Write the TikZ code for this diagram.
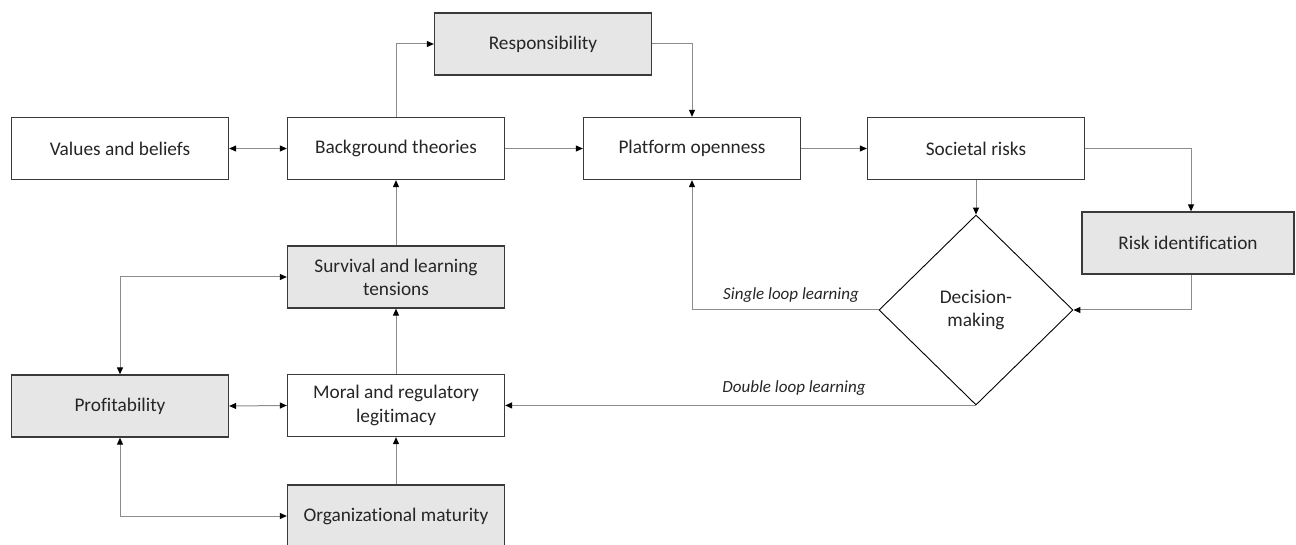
\documentclass[tikz,border=0pt]{standalone}
\usepackage{fontspec}
\setmainfont{Carlito}[Ligatures={NoCommon,NoRare}]
\usetikzlibrary{arrows.meta,shapes.geometric}
\definecolor{boxgray}{HTML}{E6E6E6}
\definecolor{linegray}{HTML}{8C8C8C}
\definecolor{edgegray}{HTML}{3A3A3A}
\definecolor{txt}{HTML}{262626}
\tikzset{
  box/.style={draw=edgegray, line width=1.3pt, fill=white, minimum width=217pt,
    minimum height=62pt, align=center, text=txt, inner sep=2pt,
    font=\fontsize{19.3}{23.2}\selectfont},
  graybox/.style={box, fill=boxgray},
  decision/.style={draw=black, line width=0.9pt, diamond, fill=white,
    minimum width=194pt, minimum height=190pt, inner sep=0pt, align=center,
    text=txt, font=\fontsize{19.3}{23.2}\selectfont},
  conn/.style={draw=linegray, line width=1pt,
    -{Triangle[length=7pt,width=6pt,color=black]}},
  biconn/.style={draw=linegray, line width=1pt,
    {Triangle[length=7pt,width=6pt,color=black]}-{Triangle[length=7pt,width=6pt,color=black]}},
  lbl/.style={text=txt, font=\fontsize{17}{20}\selectfont\itshape, inner sep=0pt}
}
\begin{document}
\begin{tikzpicture}[x=1pt,y=-1pt]
\useasboundingbox (0,0) rectangle (1296,545);
% upper row
\node[box] (vb) at (120,148.5) {Values and beliefs};
\node[box] (bt) at (396,148.5) {Background theories};
\node[graybox] (resp) at (543,44) {Responsibility};
\node[box] (po) at (692,148.5) {Platform openness};
\node[box] (sr) at (976,148.5) {Societal risks};
\node[graybox, minimum width=212pt] (ri) at (1188,243) {Risk identification};
\node[decision] (dm) at (976,310) {Decision-\\making};
% left column
\node[graybox] (sl) at (396,277) {Survival and learning\\tensions};
\node[box] (mr) at (396,405.5) {Moral and regulatory\\legitimacy};
\node[graybox] (pr) at (120,406) {Profitability};
\node[graybox] (om) at (396,516) {Organizational maturity};
% learning loop labels
\node[lbl] (sll) at (791,295) {Single loop learning};
\node[lbl] (dll) at (794,388) {Double loop learning};
% connectors
\draw[biconn] (vb.east) -- (bt.west);
\draw[conn] (bt.east) -- (po.west);
\draw[conn] (po.east) -- (sr.west);
\draw[conn] (bt.north) |- (resp.west);
\draw[conn] (resp.east) -| (po.north);
\draw[conn] (sr.east) -| ([xshift=3pt]ri.north);
\draw[conn] (sr.south) -- (dm.north);
\draw[conn] ([xshift=3pt]ri.south) |- (dm.east);
\draw[conn] (dm.west) -| (po.south);
\draw[conn] (dm.south) -- (mr.east |- dm.south);
\draw[conn] (sl.north) -- (bt.south);
\draw[conn] (mr.north) -- (sl.south);
\draw[conn] (om.north) -- (mr.south);
\draw[biconn] (pr.north) |- (sl.west);
\draw[biconn] (pr.east) -- (mr.west);
\draw[biconn] (pr.south) |- (om.west);
\end{tikzpicture}
\end{document}
